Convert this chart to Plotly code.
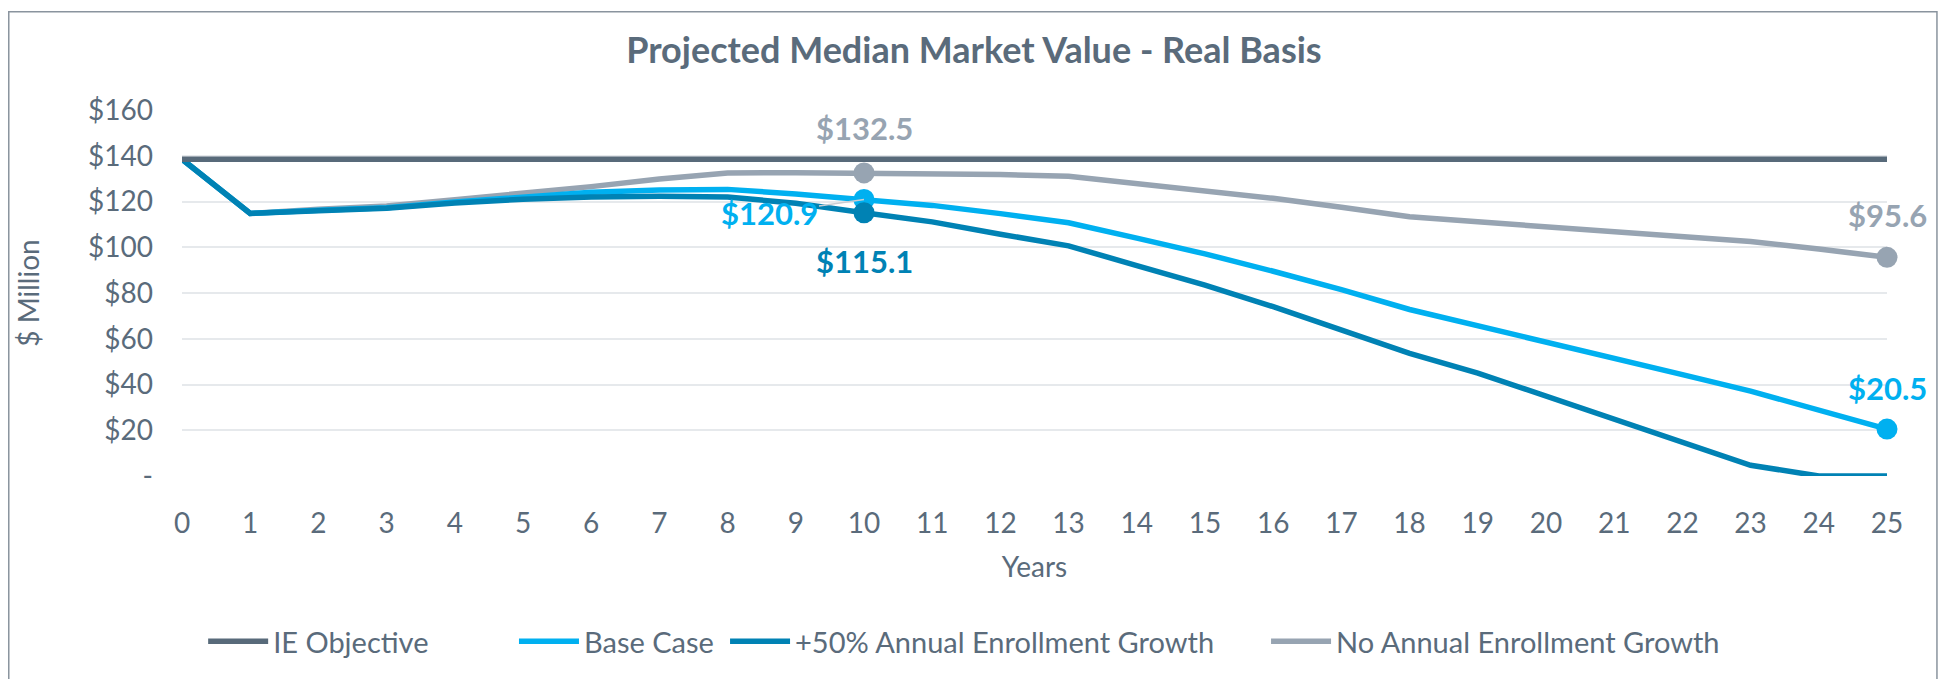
import plotly.graph_objects as go

# data ($ million, real basis)
years = list(range(26))
ie_objective = [138.5] * 26
base_case = [138.5, 114.8, 116.2, 117.3, 119.8, 122.0, 124.0, 125.0, 125.3, 123.3,
             120.9, 118.3, 114.7, 110.7, 104.0, 97.1, 89.5, 81.5, 72.8, 65.8,
             58.7, 51.5, 44.3, 37.1, 28.8, 20.5]
plus_50_growth = [138.5, 114.8, 116.0, 117.0, 119.3, 121.0, 122.0, 122.3, 122.0, 119.2,
                  115.1, 111.1, 105.7, 100.6, 92.0, 83.4, 74.0, 64.0, 53.6, 45.0,
                  35.0, 24.9, 14.8, 4.7, 0.0, 0.0]
no_growth = [138.5, 114.8, 116.6, 118.0, 120.8, 123.5, 126.5, 129.8, 132.5, 132.6,
             132.5, 132.2, 131.8, 131.0, 128.0, 124.8, 121.4, 117.5, 113.3, 111.1,
             108.9, 106.8, 104.6, 102.5, 99.2, 95.6]

y_ticks = [0, 20, 40, 60, 80, 100, 120, 140, 160]
y_tick_text = ["-", "$20", "$40", "$60", "$80", "$100", "$120", "$140", "$160"]

# highlighted points (year index) per series
label_years = {"base": [10, 25], "plus": [10], "none": [10, 25]}

FONT = "Lato"
TXT = "#5a6b7b"
C_IE = "#586a7a"
C_BASE = "#00b0f0"
C_PLUS = "#0082b4"
C_NONE = "#97a4b2"

fig = go.Figure()

# name, values, colour, label key, legend id, legend x (paper)
series = [
    ("IE Objective", ie_objective, C_IE, None, "legend", 0.030),
    ("Base Case", base_case, C_BASE, "base", "legend2", 0.2123),
    ("+50% Annual Enrollment Growth", plus_50_growth, C_PLUS, "plus", "legend3", 0.3361),
    ("No Annual Enrollment Growth", no_growth, C_NONE, "none", "legend4", 0.6534),
]
ITEM_W = 60
leg_shift = (ITEM_W - 30) / 1705

# draw order: gray under the blues, IE on top
for name, vals, color, key, leg, _ in [series[3], series[1], series[2], series[0]]:
    fig.add_trace(go.Scatter(
        x=years, y=vals, name=name, mode="lines",
        line=dict(color=color, width=5.5),
        cliponaxis=False, legend=leg,
    ))
    if key:
        idx = label_years[key]
        fig.add_trace(go.Scatter(
            x=[years[i] for i in idx], y=[vals[i] for i in idx],
            mode="markers", marker=dict(color=color, size=21),
            showlegend=False, cliponaxis=False, hoverinfo="skip",
        ))

# data labels
lab_font = dict(family=FONT, size=31, weight="bold")
fig.add_annotation(x=10, y=no_growth[10], text=f"${no_growth[10]:.1f}", showarrow=False,
                   yshift=45, font=dict(lab_font, color=C_NONE))
fig.add_annotation(x=25, y=no_growth[25], text=f"${no_growth[25]:.1f}", showarrow=False,
                   yshift=42, font=dict(lab_font, color=C_NONE))
fig.add_annotation(x=25, y=base_case[25], text=f"${base_case[25]:.1f}", showarrow=False,
                   yshift=41, font=dict(lab_font, color=C_BASE))
fig.add_annotation(x=10, y=plus_50_growth[10], text=f"${plus_50_growth[10]:.1f}", showarrow=False,
                   yshift=-48, font=dict(lab_font, color=C_PLUS))
fig.add_annotation(x=10, y=base_case[10], text=f"${base_case[10]:.1f}", showarrow=True,
                   arrowhead=0, arrowwidth=1.5, arrowcolor="#c8cdd3", ax=-95, ay=14,
                   font=dict(lab_font, color=C_BASE))

# outer chart border
fig.add_shape(type="rect", xref="paper", yref="paper",
              x0=-0.1016, x1=1.0293, y0=-0.60, y1=1.2683,
              line=dict(color="#8a949e", width=1.5), layer="below")

legend_common = dict(orientation="h", xanchor="left", yref="paper", y=-0.452,
                     yanchor="middle", bgcolor="rgba(0,0,0,0)", itemwidth=ITEM_W,
                     font=dict(family=FONT, size=29, color=TXT))

fig.update_layout(
    width=1930, height=671,
    margin=dict(l=174, r=51, t=101.5, b=198.5),
    paper_bgcolor="white", plot_bgcolor="white",
    font=dict(family=FONT, size=28, color=TXT),
    title=dict(text="<b>Projected Median Market Value - Real Basis</b>",
               x=0.5005, xref="container", xanchor="center",
               y=1 - 42 / 671, yref="container", yanchor="middle",
               font=dict(family=FONT, size=36, color=TXT)),
    showlegend=True,
    legend=dict(legend_common, x=series[0][5] - leg_shift),
    legend2=dict(legend_common, x=series[1][5] - leg_shift),
    legend3=dict(legend_common, x=series[2][5] - leg_shift),
    legend4=dict(legend_common, x=series[3][5] - leg_shift),
    xaxis=dict(range=[0, 25], tickmode="array", tickvals=years, tickangle=0,
               showgrid=False, zeroline=False, showline=False, ticks="",
               ticklabelstandoff=28, automargin=False,
               title=dict(text="Years", standoff=19, font=dict(size=28, color=TXT))),
    yaxis=dict(range=[0, 160], tickvals=y_ticks, ticktext=y_tick_text,
               showgrid=True, gridcolor="#e6e9ec", gridwidth=2, automargin=False,
               zeroline=False, showline=False, ticks="", ticklabelstandoff=28,
               title=dict(text="$ Million", standoff=40, font=dict(size=28, color=TXT))),
)

fig.write_html("out.html")
